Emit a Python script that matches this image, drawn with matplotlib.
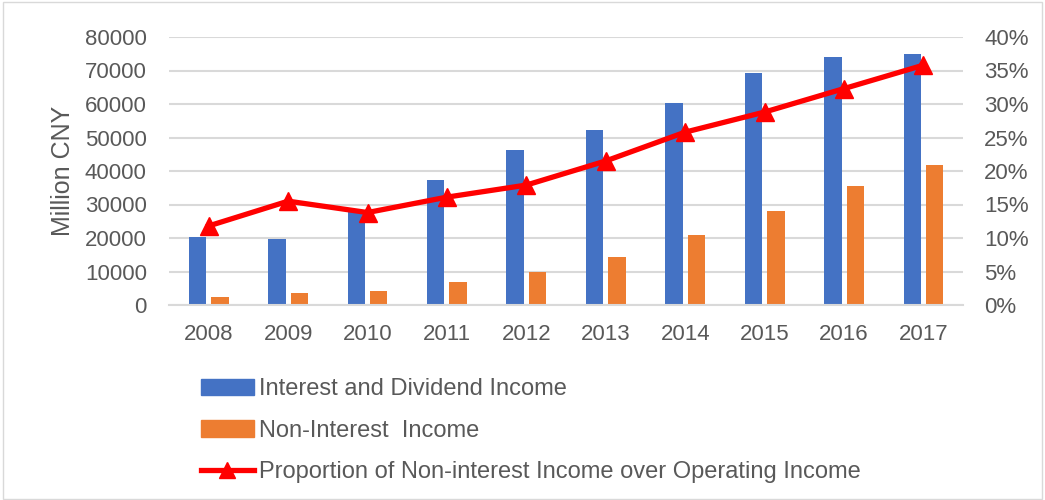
import matplotlib
matplotlib.use("Agg")
import matplotlib.pyplot as plt
from matplotlib.lines import Line2D
from matplotlib.patches import Patch, Rectangle
import numpy as np

plt.rcParams['font.family'] = ['Liberation Sans', 'DejaVu Sans']

years = ['2008', '2009', '2010', '2011', '2012', '2013', '2014', '2015', '2016', '2017']
interest_income = [20200, 19800, 28300, 37300, 46300, 52200, 60300, 69300, 74100, 74800]
non_interest_income = [2500, 3500, 4200, 6900, 9900, 14300, 20900, 28100, 35600, 41800]
proportion = [11.8, 15.5, 13.8, 16.1, 17.9, 21.5, 25.8, 28.8, 32.3, 35.8]

blue = '#4472c4'
orange = '#ed7d31'
red = '#ff0000'
text_col = '#595959'
grid_col = '#d9d9d9'

fig = plt.figure(figsize=(10.45, 5), dpi=100)
ax = fig.add_axes([0.1617, 0.39, 0.76, 0.536])
ax2 = ax.twinx()

x = np.arange(len(years))
w = 0.22
ax.bar(x - 0.141, interest_income, w, color=blue, zorder=2)
ax.bar(x + 0.141, non_interest_income, w, color=orange, zorder=2)

ax2.plot(x, proportion, color=red, lw=3.8, marker='^', ms=13, zorder=3)

ax.set_xlim(-0.5, len(years) - 0.5)
ax.set_ylim(0, 80000)
ax.set_yticks(range(0, 80001, 10000))
ax2.set_ylim(0, 40)
ax2.set_yticks(range(0, 41, 5))
ax2.set_yticklabels([f'{v}%' for v in range(0, 41, 5)])
ax.set_xticks(x)
ax.set_xticklabels(years)

ax.grid(axis='y', color=grid_col, lw=1.5, zorder=0)
ax.set_axisbelow(True)
for a in (ax, ax2):
    for s in a.spines.values():
        s.set_visible(False)
    a.tick_params(length=0, labelsize=16, labelcolor=text_col)
ax.spines['bottom'].set_visible(True)
ax.spines['bottom'].set_color(grid_col)
ax.spines['bottom'].set_linewidth(1.5)
ax.tick_params(axis='x', pad=14)
ax.tick_params(axis='y', pad=16)
ax2.tick_params(axis='y', pad=15)

ax.set_ylabel('Million CNY', fontsize=18, color=text_col)
ax.yaxis.set_label_coords(-0.118, 0.5)

handles = [
    Patch(color=blue),
    Patch(color=orange),
    Line2D([0], [0], color=red, lw=3.8, marker='^', ms=11),
]
labels = ['Interest and Dividend Income', 'Non-Interest  Income',
          'Proportion of Non-interest Income over Operating Income']
fig.legend(handles, labels, loc='upper left', bbox_to_anchor=(0.183, 0.262),
           frameon=False, fontsize=17, labelcolor=text_col, handlelength=2.25,
           handletextpad=0.2, labelspacing=0.82, borderaxespad=0)

fig.patches.append(Rectangle((0.003, 0.003), 0.994, 0.994, transform=fig.transFigure,
                             fill=False, edgecolor=grid_col, lw=1))

fig.savefig('out.png', dpi=100)
